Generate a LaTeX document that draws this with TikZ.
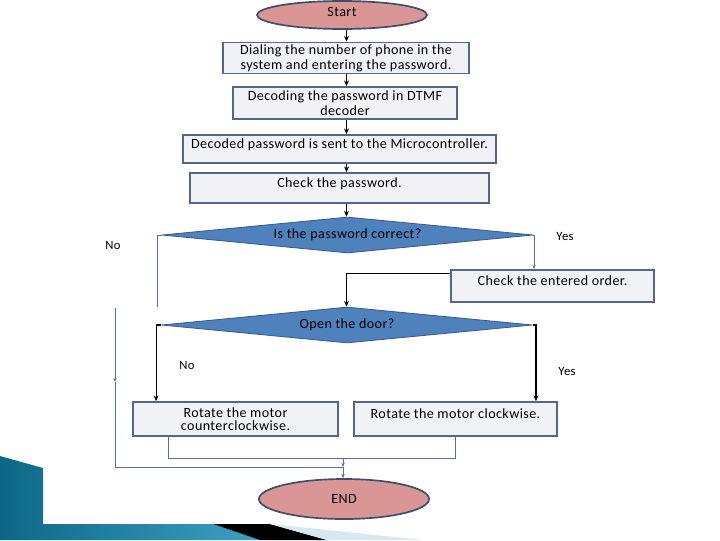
\documentclass[tikz,border=0pt]{standalone}
\usepackage{fontspec}
\setmainfont{Carlito}[LetterSpace=3]
\usetikzlibrary{shapes.geometric,arrows.meta,calc}
\definecolor{mypink}{RGB}{217,150,148}
\definecolor{myedge}{RGB}{63,78,110}
\definecolor{myboxedge}{RGB}{80,104,142}
\definecolor{myboxfill}{RGB}{241,242,245}
\definecolor{mydiamond}{RGB}{79,129,189}
\definecolor{mydiamondedge}{RGB}{56,93,138}
\definecolor{mylink}{RGB}{86,112,152}
\definecolor{mydarkteal}{RGB}{12,104,134}
\definecolor{mylightteal}{RGB}{62,160,194}
\definecolor{mypaleblue}{RGB}{214,232,240}
\newcommand{\heightdecision}{0.9cm}
\newcommand{\widthdecision}{9.275cm}
\tikzset{
    common/.style={draw, align=center, inner sep=1pt, font=\fontsize{10}{10.5}\selectfont},
    terminal/.style={common, ellipse, fill=mypink, draw=myedge, line width=1.2pt, minimum width=4.25cm, minimum height=0.7cm},
    stepbox/.style={common, rectangle, fill=myboxfill, draw=myboxedge, line width=1.3pt},
    raised/.style={text depth=8pt},
    decision/.style={common, diamond, shape aspect=10, inner sep=0pt, fill=mydiamond, draw=mydiamondedge, line width=0.6pt,
        minimum width=\widthdecision, minimum height=\heightdecision},
    flow/.style={line width=0.8pt, -{Stealth[length=4pt,width=3.5pt]}},
    link/.style={draw=mylink, line width=0.5pt},
    answer/.style={font=\fontsize{9}{10}\selectfont}
}

\begin{document}
\begin{tikzpicture}[x=0.025cm, y=-0.025cm]
            \useasboundingbox (0,0) rectangle (720,540);

            % slide corner
            \shade[left color=mydarkteal, right color=mylightteal]
                (0,456) -- (43,468) -- (43,524) -- (213,524) -- (260,540) -- (0,540) -- cycle;
            \fill[black] (213,524) -- (270,524) -- (327,540) -- (260,540) -- cycle;
            \fill[mypaleblue] (270,524) -- (423,540) -- (327,540) -- cycle;

            \path
                node[terminal, raised, text depth=5pt] (start) at (342,15) {Start}
                node[stepbox, minimum width=6.15cm, minimum height=0.775cm] (dial) at (346,58)
                    {Dialing the number of phone in the\\system and entering the password.}
                node[stepbox, minimum width=5.6cm, minimum height=0.8cm] (decode) at (345,103)
                    {Decoding the password in DTMF\\decoder}
                node[stepbox, raised, minimum width=7.825cm, minimum height=0.7cm] (sent) at (339.5,149)
                    {Decoded password is sent to the Microcontroller.}
                node[stepbox, raised, minimum width=7.475cm, minimum height=0.75cm] (check) at (339.5,188)
                    {Check the password.}
                node[decision] (pwok) at (347.5,235) {Is the password correct?}
                node[stepbox, raised, minimum width=5.075cm, minimum height=0.8cm] (order) at (552.5,286)
                    {Check the entered order.}
                node[decision] (door) at (347,325) {Open the door?}
                node[stepbox, minimum width=5.125cm, minimum height=0.85cm, font=\fontsize{10}{9.5}\selectfont] (ccw) at (235.5,419)
                    {Rotate the motor\\counterclockwise.}
                node[stepbox, raised, minimum width=5.075cm, minimum height=0.85cm] (cw) at (455.5,419)
                    {Rotate the motor clockwise.}
                node[terminal, minimum height=1cm] (end) at (344,499) {END};

            \node[answer] (no1) at (113,245) {No};
            \node[answer] (yes1) at (565,236) {Yes};
            \node[answer] (no2) at (187,365) {No};
            \node[answer] (yes2) at (567,371) {Yes};

            \coordinate (spine) at (346.5,0);
            \coordinate (nobend) at (157,307);
            \coordinate (nostart) at (115,308);
            \coordinate (nomid) at (115,382);
            \coordinate (join) at (343,458);
            \coordinate (joinlow) at (343,467);

            \draw[flow] (start.south -| spine) -- (dial.north -| spine);
            \draw[flow] (dial.south -| spine) -- (decode.north -| spine);
            \draw[flow] (decode.south -| spine) -- (sent.north -| spine);
            \draw[flow] (sent.south -| spine) -- (check.north -| spine);
            \draw[flow] (check.south -| spine) -- (pwok.north -| spine);
            \draw[link, -{Stealth[length=3pt,width=2.5pt]}] (pwok.east) -| ($(order.north)+(-18.5,0)$);
            \draw[flow] ($(order.north west)+(0,4)$) -| (door.north -| spine);
            \draw[flow] (door.west) -| ($(ccw.north west)+(24,0)$);
            \draw[flow] (door.east) -| ($(cw.north east)+(-22,0)$);

            \draw[link] (pwok.west) -| (nobend);
            \draw[link, -{Stealth[length=3pt,width=2.5pt]}] (nostart) -- (nomid);
            \draw[link] (nomid) |- (joinlow);
            \draw[link] ($(ccw.south west)+(36,0)$) |- (join);
            \draw[link] (cw.south) |- (join);
            \draw[link, -{Stealth[length=3pt,width=2.5pt]}] (join) -- (joinlow);
            \draw[link, -{Stealth[length=3pt,width=2.5pt]}] (joinlow) -- (end.north -| joinlow);

        \end{tikzpicture}
\end{document}
